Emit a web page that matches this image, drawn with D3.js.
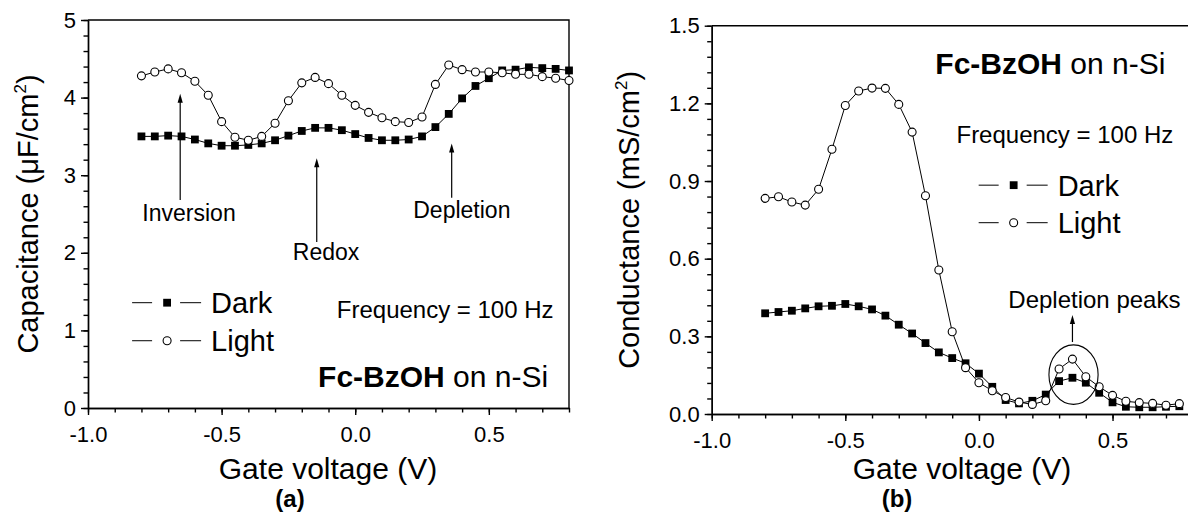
<!DOCTYPE html>
<html>
<head>
<meta charset="utf-8">
<script src="https://cdn.jsdelivr.net/npm/d3@7"></script>
<style>
  body { margin: 0; background: #fff; }
  svg { font-family: "Liberation Sans", Arial, sans-serif; display: block; }
  .axis path, .axis line { stroke: #000; stroke-width: 1.4px; }
  .axis text { font-size: 22px; fill: #000; }
</style>
</head>
<body>
<svg id="chart" width="1188" height="513"></svg>
<script>
// gate voltages (V)
const voltA = [-0.80,-0.75,-0.70,-0.65,-0.60,-0.55,-0.50,-0.45,-0.40,-0.35,-0.30,-0.25,-0.20,-0.15,-0.10,-0.05,
  0.00,0.05,0.10,0.15,0.20,0.25,0.30,0.35,0.40,0.45,0.50,0.55,0.60,0.65,0.70,0.75,0.80]
const voltB = [-0.80,-0.75,-0.70,-0.65,-0.60,-0.55,-0.50,-0.45,-0.40,-0.35,-0.30,-0.25,-0.20,-0.15,-0.10,-0.05,
  0.00,0.05,0.10,0.15,0.20,0.25,0.30,0.35,0.40,0.45,0.50,0.55,0.60,0.65,0.70,0.75]

// (a) capacitance, uF/cm2
const capDark = [3.50,3.50,3.51,3.50,3.46,3.41,3.38,3.38,3.39,3.41,3.45,3.51,3.57,3.61,3.61,3.58,
  3.53,3.48,3.45,3.45,3.46,3.50,3.62,3.79,3.99,4.15,4.25,4.35,4.36,4.39,4.38,4.37,4.35]
const capLight = [4.28,4.33,4.37,4.32,4.21,4.03,3.69,3.49,3.45,3.50,3.67,3.96,4.19,4.26,4.18,4.03,
  3.90,3.81,3.74,3.69,3.68,3.75,4.17,4.42,4.36,4.33,4.33,4.32,4.30,4.30,4.27,4.25,4.22]

// (b) conductance, mS/cm2
const condDark = [0.389,0.394,0.399,0.408,0.416,0.418,0.425,0.416,0.404,0.380,0.345,0.311,0.274,0.238,0.216,0.196,
  0.156,0.105,0.054,0.041,0.051,0.075,0.127,0.140,0.121,0.082,0.045,0.028,0.026,0.026,0.028,0.030]
const condLight = [0.833,0.839,0.819,0.807,0.868,1.023,1.192,1.248,1.259,1.258,1.196,1.089,0.843,0.556,0.318,0.179,
  0.121,0.090,0.064,0.046,0.037,0.051,0.174,0.212,0.144,0.105,0.072,0.049,0.044,0.041,0.034,0.040]

const xTicks = [-1.0, -0.5, 0.0, 0.5]
const capTicks = [0, 1, 2, 3, 4, 5]
const condTicks = [0.0, 0.3, 0.6, 0.9, 1.2, 1.5]

const svg = d3.select('#chart')
const fmt1 = d => d.toFixed(1)   // plain hyphen, not unicode minus

function marker(g, kind, x, y) {
  if (kind == 'dark') {
    g.append('rect')
      .attr('x', x - 3.9).attr('y', y - 3.9)
      .attr('width', 7.8).attr('height', 7.8)
      .attr('fill', '#000')
  } else {
    g.append('circle')
      .attr('cx', x).attr('cy', y).attr('r', 4)
      .attr('fill', '#fff').attr('stroke', '#000').attr('stroke-width', 1.1)
  }
}

function arrow(g, x, y1, y2) {
  // y1 = bottom, y2 = tip (top)
  g.append('line')
    .attr('x1', x).attr('x2', x).attr('y1', y1).attr('y2', y2 + 6)
    .attr('stroke', '#000').attr('stroke-width', 1.2)
  g.append('path')
    .attr('d', `M${x},${y2} L${x - 2.6},${y2 + 9} L${x + 2.6},${y2 + 9} Z`)
    .attr('fill', '#000')
}

function panel(opt) {
  const g = svg.append('g')
  const x = d3.scaleLinear().domain([-1, 0.8]).range([opt.left, opt.left + 481])
  const y = d3.scaleLinear().domain(opt.yDomain).range([opt.bottom, opt.top])

  // minor ticks
  g.append('g').attr('class', 'axis')
    .attr('transform', `translate(0, ${opt.bottom})`)
    .call(d3.axisBottom(x).tickValues(d3.range(-10, 9).map(d => d / 10)).tickSize(4.5).tickFormat('').tickSizeOuter(0))
  g.append('g').attr('class', 'axis')
    .attr('transform', `translate(${opt.left}, 0)`)
    .call(d3.axisLeft(y).tickValues(opt.minor).tickSize(4.5).tickFormat('').tickSizeOuter(0))

  // major ticks
  g.append('g').attr('class', 'axis')
    .attr('transform', `translate(0, ${opt.bottom})`)
    .call(d3.axisBottom(x).tickValues(xTicks).tickSize(7).tickPadding(11).tickFormat(fmt1).tickSizeOuter(0))
  g.append('g').attr('class', 'axis')
    .attr('transform', `translate(${opt.left}, 0)`)
    .call(d3.axisLeft(y).tickValues(opt.ticks).tickSize(7).tickPadding(5).tickFormat(opt.fmt).tickSizeOuter(0))

  // frame top + right
  g.append('path')
    .attr('d', `M${x(-1)},${y(opt.yDomain[1])} H${x(0.8)} V${y(0)}`)
    .attr('fill', 'none').attr('stroke', '#000').attr('stroke-width', 1.4)

  // series
  const line = d3.line().x(d => x(d[0])).y(d => y(d[1]))
  const series = [['dark', opt.dark], ['light', opt.light]]
  series.forEach(function (s) {
    const pts = opt.volt.map((v, i) => [v, s[1][i]])
    g.append('path').attr('d', line(pts))
      .attr('fill', 'none').attr('stroke', '#000').attr('stroke-width', 1)
  })
  series.forEach(function (s) {
    opt.volt.forEach((v, i) => marker(g, s[0], x(v), y(s[1][i])))
  })

  // axis titles
  g.append('text')
    .attr('x', opt.xTitleX).attr('y', 479)
    .attr('text-anchor', 'middle').attr('font-size', 30)
    .text('Gate voltage (V)')
  const yt = g.append('text')
    .attr('transform', `translate(${opt.yTitleX}, ${(opt.top + opt.bottom) / 2}) rotate(-90)`)
    .attr('text-anchor', 'middle').attr('font-size', 29)
  yt.append('tspan').text(opt.yTitle)
  yt.append('tspan').attr('font-size', 17).attr('dy', -12).text('2')
  yt.append('tspan').attr('dy', 12).text(')')

  g.append('text')
    .attr('x', opt.labelX).attr('y', 507)
    .attr('text-anchor', 'middle').attr('font-size', 24).attr('font-weight', 'bold')
    .text(opt.label)

  // legend
  const leg = opt.legend
  ;[['dark', 'Dark', leg.y1], ['light', 'Light', leg.y2]].forEach(function (r) {
    const lx = x(leg.x), ly = y(r[2])
    g.append('line').attr('x1', lx - 35).attr('x2', lx - 15).attr('y1', ly).attr('y2', ly)
      .attr('stroke', '#000').attr('stroke-width', 1)
    g.append('line').attr('x1', lx + 13).attr('x2', lx + 34).attr('y1', ly).attr('y2', ly)
      .attr('stroke', '#000').attr('stroke-width', 1)
    marker(g, r[0], lx, ly)
    g.append('text').attr('x', lx + 44).attr('y', ly + 10.5)
      .attr('font-size', 29).text(r[1])
  })

  // frequency + sample
  g.append('text')
    .attr('x', x(opt.freq[0])).attr('y', y(opt.freq[1]))
    .attr('font-size', 24).text('Frequency = 100 Hz')
  const fc = g.append('text')
    .attr('x', x(opt.fc[0])).attr('y', y(opt.fc[1]))
    .attr('text-anchor', opt.fc[2]).attr('font-size', 30)
  fc.append('tspan').attr('font-weight', 'bold').text('Fc-BzOH')
  fc.append('tspan').text(' on n-Si')

  return { g: g, x: x, y: y }
}

// (a)
const a = panel({
  left: 88, top: 20, bottom: 408, yDomain: [0, 5],
  ticks: capTicks, minor: d3.range(0, 26).map(d => d / 5), fmt: d3.format('d'),
  volt: voltA, dark: capDark, light: capLight,
  xTitleX: 328, yTitleX: 38, yTitle: 'Capacitance (\u03bcF/cm', label: '(a)', labelX: 290,
  legend: { x: -0.704, y1: 1.357, y2: 0.867 },
  freq: [-0.069, 1.156], fc: [0.722, 0.27, 'end']
})

const notesA = [
  { text: 'Inversion', ax: -0.655, top: 4.05, bot: 2.68, tx: -0.622, ty: 2.41 },
  { text: 'Redox', ax: -0.144, top: 3.22, bot: 2.14, tx: -0.109, ty: 1.91 },
  { text: 'Depletion', ax: 0.361, top: 3.41, bot: 2.71, tx: 0.399, ty: 2.45 }
]
notesA.forEach(function (n) {
  arrow(a.g, a.x(n.ax), a.y(n.bot), a.y(n.top))
  a.g.append('text')
    .attr('x', a.x(n.tx)).attr('y', a.y(n.ty))
    .attr('text-anchor', 'middle').attr('font-size', 23)
    .text(n.text)
})

// (b)
const b = panel({
  left: 711.7, top: 25.7, bottom: 414, yDomain: [0, 1.5],
  ticks: condTicks, minor: d3.range(0, 26).map(d => d * 0.06), fmt: fmt1,
  volt: voltB, dark: condDark, light: condLight,
  xTitleX: 962, yTitleX: 639, yTitle: 'Conductance (mS/cm', label: '(b)', labelX: 897,
  legend: { x: 0.13, y1: 0.884, y2: 0.739 },
  freq: [-0.084, 1.045], fc: [-0.163, 1.315, 'start']
})

b.g.append('ellipse')
  .attr('cx', b.x(0.354)).attr('cy', b.y(0.152))
  .attr('rx', b.x(0.354 + 0.092) - b.x(0.354)).attr('ry', b.y(0) - b.y(0.115))
  .attr('fill', 'none').attr('stroke', '#000').attr('stroke-width', 1.1)
arrow(b.g, b.x(0.35), b.y(0.278), b.y(0.382))
b.g.append('text')
  .attr('x', b.x(0.11)).attr('y', b.y(0.408))
  .attr('font-size', 24)
  .text('Depletion peaks')
</script>
</body>
</html>
